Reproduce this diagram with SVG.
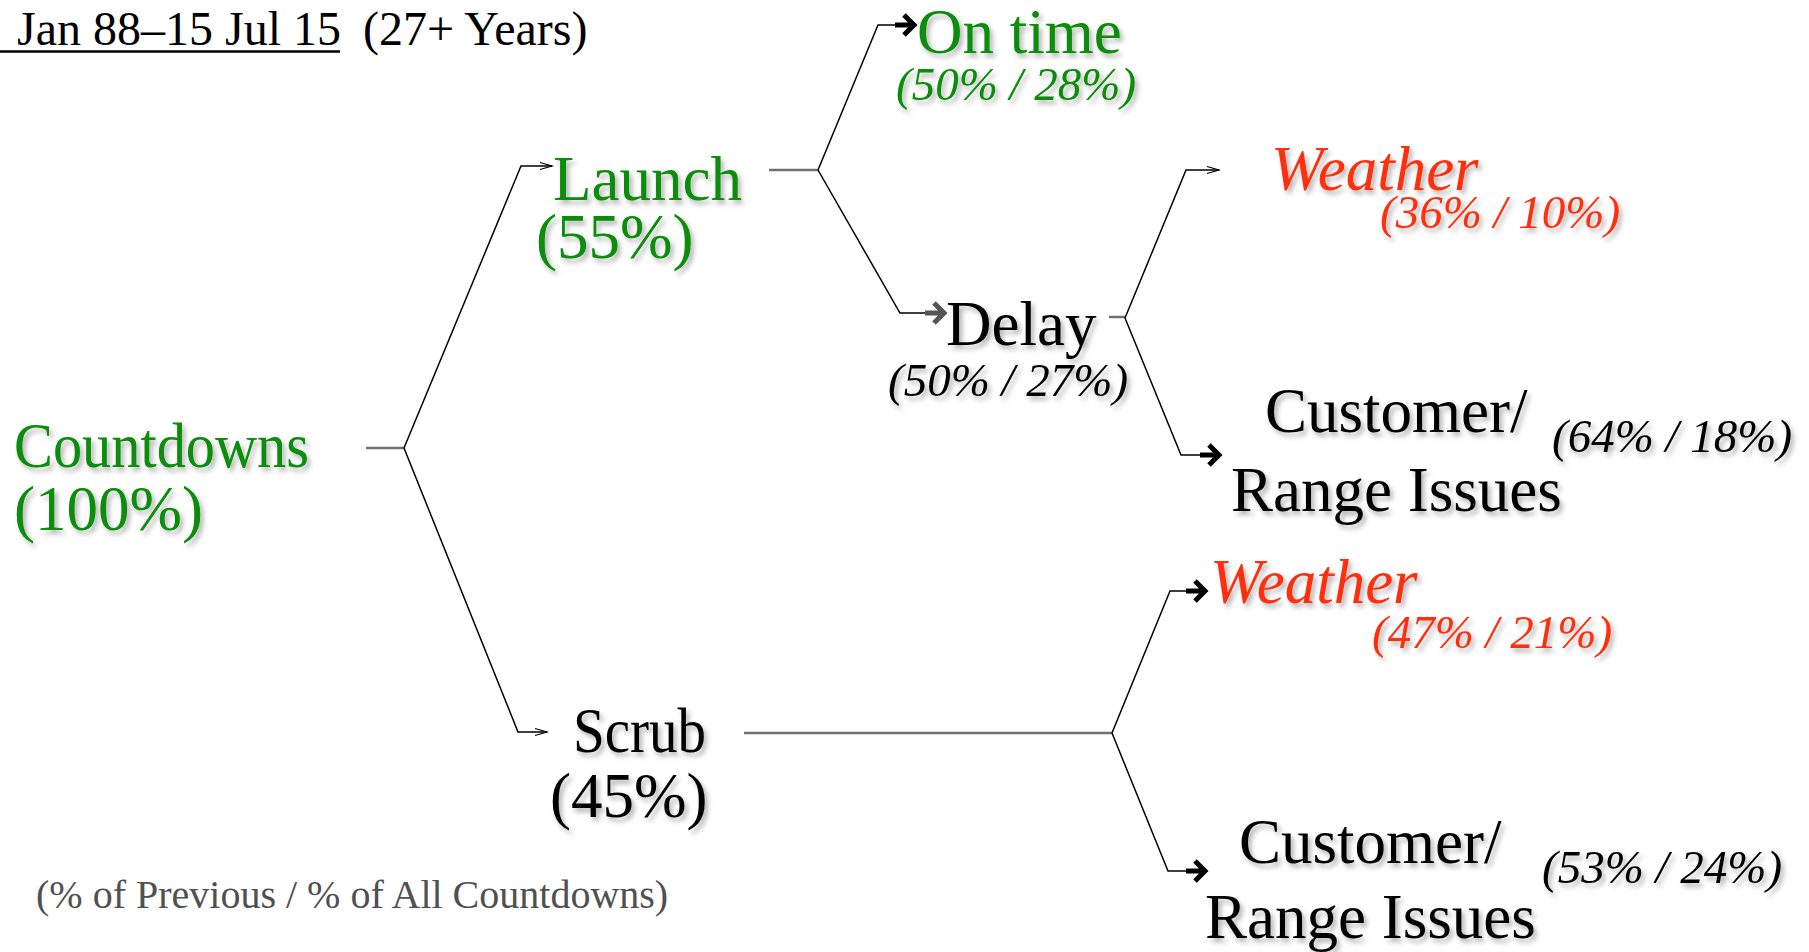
<svg xmlns="http://www.w3.org/2000/svg" width="1809" height="952" viewBox="0 0 1809 952">
<style>
text{font-family:"Liberation Serif","Times New Roman",serif;}
.big{font-size:63px;filter:url(#sh);}
.pct{font-size:47px;font-style:italic;filter:url(#sh);}
.g{fill:#078c07;}
.r{fill:#ff2d0a;}
.k{fill:#000;}
.br{fill:none;stroke:#000;stroke-width:1.5;}
.tick{fill:none;stroke:#707070;stroke-width:2.5;}
</style>
<defs>
<filter id="sh" x="-10%" y="-20%" width="130%" height="160%">
<feDropShadow dx="3" dy="4" stdDeviation="2.5" flood-color="#000" flood-opacity="0.3"/>
</filter>
<marker id="thin" markerUnits="userSpaceOnUse" markerWidth="16" markerHeight="12" refX="13" refY="6" orient="auto">
<path d="M1,2.5 L13,6 L1,9.5" fill="none" stroke="#000" stroke-width="1.2"/>
</marker>
<marker id="thick" markerUnits="userSpaceOnUse" markerWidth="30" markerHeight="30" refX="22" refY="15" orient="auto">
<path d="M2,15 H21 M11,5 L21,15 L11,25" fill="none" stroke="#000" stroke-width="5"/>
</marker>
<marker id="thickg" markerUnits="userSpaceOnUse" markerWidth="30" markerHeight="30" refX="22" refY="15" orient="auto">
<path d="M2,15 H21 M11,5 L21,15 L11,25" fill="none" stroke="#555" stroke-width="5"/>
</marker>
</defs>

<g id="title">
<text x="17" y="45" font-size="48" fill="#000">Jan 88–15 Jul 15</text>
<line x1="0" y1="51.5" x2="340" y2="51.5" stroke="#000" stroke-width="2.5"/>
<text x="363" y="45" font-size="48" fill="#000">(27+ Years)</text>
</g>

<g id="connectors">
<line class="tick" x1="366" y1="448" x2="404" y2="448"/>
<polyline class="br" points="404,448 521,166 552,166" marker-end="url(#thin)"/>
<polyline class="br" points="404,448 518,732 547,732" marker-end="url(#thin)"/>
<line class="tick" x1="769" y1="170" x2="818" y2="170"/>
<polyline class="br" points="818,170 878,25 915,25" marker-end="url(#thick)"/>
<polyline class="br" points="818,170 900,313 945,313" marker-end="url(#thickg)"/>
<line class="tick" x1="1109" y1="317" x2="1125" y2="317"/>
<polyline class="br" points="1125,318 1186,170 1219,170" marker-end="url(#thin)"/>
<polyline class="br" points="1125,318 1181,455 1220,455" marker-end="url(#thick)"/>
<line class="tick" x1="744" y1="733" x2="1112" y2="733"/>
<polyline class="br" points="1112,733 1170,591 1206,591" marker-end="url(#thick)"/>
<polyline class="br" points="1112,733 1168,871 1206,871" marker-end="url(#thick)"/>
</g>

<g id="countdowns">
<text class="big g" x="14" y="467" font-size="60" textLength="295" lengthAdjust="spacingAndGlyphs">Countdowns</text>
<text class="big g" x="14" y="530" font-size="62">(100%)</text>
</g>

<g id="launch">
<text class="big g" x="553" y="200">Launch</text>
<text class="big g" x="536" y="258">(55%)</text>
</g>

<g id="ontime">
<text class="big g" x="917" y="53">On time</text>
<text class="pct g" x="896" y="100" font-size="46">(50% / 28%)</text>
</g>

<g id="delay">
<text class="big k" x="946" y="345">Delay</text>
<text class="pct k" x="888" y="396">(50% / 27%)</text>
</g>

<g id="delay-weather">
<text class="big r" x="1271" y="190" font-style="italic" font-size="61">Weather</text>
<text class="pct r" x="1380" y="228">(36% / 10%)</text>
</g>

<g id="delay-customer">
<text class="big k" x="1265" y="432">Customer/</text>
<text class="big k" x="1231" y="511">Range Issues</text>
<text class="pct k" x="1552" y="452">(64% / 18%)</text>
</g>

<g id="scrub">
<text class="big k" x="573" y="752" font-size="59" textLength="133" lengthAdjust="spacingAndGlyphs">Scrub</text>
<text class="big k" x="550" y="817" font-size="62">(45%)</text>
</g>

<g id="scrub-weather">
<text class="big r" x="1210" y="603" font-style="italic" font-size="62">Weather</text>
<text class="pct r" x="1372" y="648">(47% / 21%)</text>
</g>

<g id="scrub-customer">
<text class="big k" x="1239" y="863">Customer/</text>
<text class="big k" x="1205" y="938">Range Issues</text>
<text class="pct k" x="1542" y="883">(53% / 24%)</text>
</g>

<g id="legend">
<text x="36" y="908" font-size="40" fill="#505050">(% of Previous / % of All Countdowns)</text>
</g>
</svg>
